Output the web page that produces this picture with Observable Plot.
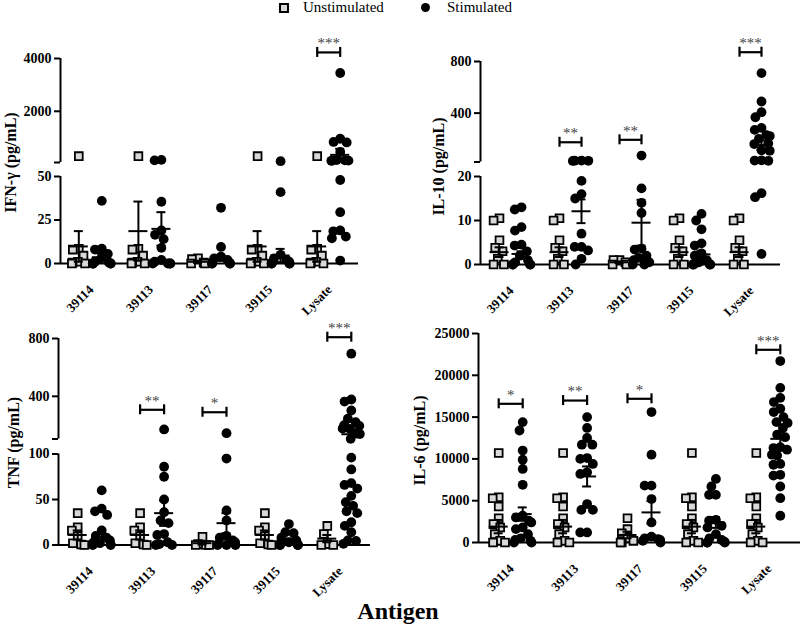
<!DOCTYPE html>
<html><head><meta charset="utf-8">
<script src="https://cdn.jsdelivr.net/npm/d3@7"></script>
<script src="https://cdn.jsdelivr.net/npm/@observablehq/plot@0.6"></script>
<style>
html,body{margin:0;padding:0;background:#fff;}
#wrap{position:relative;width:800px;height:625px;overflow:hidden;font-family:"Liberation Serif","Times New Roman",serif;}
.panel{position:absolute;}
.panel svg{overflow:visible;}
.panel g[aria-label^="y-axis"] line,.panel g[aria-label^="y-axis"] path{stroke-width:2px;}
.leg{position:absolute;font-size:15px;line-height:1;color:#000;}
.sq{position:absolute;width:6px;height:6px;border:2px solid #000;background:#d9d9d9;}
.ci{position:absolute;width:9px;height:9px;border-radius:50%;background:#000;}
#xt{position:absolute;left:0;width:800px;top:599px;text-align:center;font-size:24px;font-weight:bold;line-height:1;text-indent:-4px;}
</style></head><body><div id="wrap">
<div class="sq" style="left:279px;top:3px"></div><div class="leg" style="left:303px;top:0px">Unstimulated</div>
<div class="ci" style="left:421px;top:3px"></div><div class="leg" style="left:447px;top:0px">Stimulated</div>
<div id="xt">Antigen</div>
</div>
<script>
const categories = ["39114", "39113", "39117", "39115", "Lysate"];

// IFN-γ (pg/mL)
const ifnUnstim = [
  [300, 8.5, 8, 4.5, 1, 0.5, 0, 0],
  [300, 8.5, 8, 4.5, 1, 0.5, 0, 0],
  [3, 2.5, 0.5, 0, 0],
  [300, 8.5, 8, 4.5, 1, 0.5, 0, 0],
  [300, 8.5, 8, 4.5, 1, 0.5, 0, 0]];
const ifnStim = [
  [36, 8.5, 8, 5.5, 3, 1, 0.5, 0, 0, 0, 0, 0],
  [160, 140, 35.5, 19, 16.5, 14, 9, 2, 1, 0, 0, 0, 0],
  [32, 9.5, 4, 3, 2, 1, 0.5, 0, 0, 0, 0],
  [110, 41, 5, 3, 2, 1, 0.5, 0, 0, 0, 0],
  [3450, 960, 840, 820, 460, 150, 140, 135, 130, 125, 48, 29.5, 19, 18.5, 15.5, 14.5, 1.7]];
const ifnUnstimMean = [9.8, 18.6, 1, 9.8, 9.8];
const ifnUnstimSem = [8.8, 17, 0.6, 8.8, 8.8];
const ifnStimMean = [3.6, 19.9, 3, 4.6, 350];
const ifnStimSem = [2, 9.6, 1.5, 3.8, 230];
const ifnSig = ["", "", "", "", "***"];
const ifnSigLevel = [null, null, null, null, 4230];

// IL-10 (pg/mL)
const il10Unstim = [
  [10.5, 10, 5.5, 3.8, 3, 1.3, 0, 0],
  [10.5, 10, 5.5, 3.8, 3, 1.3, 0, 0],
  [1, 1, 0.5, 0, 0],
  [10.5, 10, 5.5, 3.8, 3, 1.3, 0, 0],
  [10.5, 10, 5.5, 3.8, 3, 1.3, 0, 0]];
const il10Stim = [
  [13, 12.5, 8.5, 7.7, 4.5, 4.3, 3, 2, 1, 0.5, 0, 0, 0, 0],
  [32, 31, 30, 29, 19, 16, 15, 7, 4, 4, 3.2, 1.3, 0],
  [71, 17.3, 14, 11.7, 3.6, 3.4, 2, 1.5, 1, 0.5, 0, 0],
  [11.5, 10, 8, 4.8, 4.3, 2.5, 2, 1, 0.5, 0, 0, 0, 0],
  [710, 490, 407, 368, 285, 270, 230, 222, 201, 165, 160, 112, 108, 34, 32, 30, 16.2, 15.3, 2.4]];
const il10UnstimMean = [2.8, 2.8, 0.5, 2.8, 2.8];
const il10UnstimSem = [1.1, 1.1, 0.2, 1.1, 1.1];
const il10StimMean = [2.4, 12.1, 9.5, 2.3, 152];
const il10StimSem = [0.6, 2.7, 5.2, 0.8, 36];
const il10Sig = ["", "**", "**", "", "***"];
const il10SigLevel = [null, 174, 193, null, 872];

// TNF (pg/mL)
const tnfUnstim = [
  [35, 19.5, 16, 9.5, 2, 0.5, 0],
  [35, 19.5, 16, 9.5, 2, 0.5, 0],
  [9, 1, 0, 0, 0],
  [35, 19.5, 16, 9.5, 2, 0.5, 0],
  [21, 12, 1, 0, 0]];
const tnfStim = [
  [60, 40, 37, 33, 16, 10, 8, 5, 3, 2, 1, 0.5, 0, 0],
  [171, 86, 75, 50, 36, 27, 24, 12, 11, 3, 1, 0, 0],
  [145, 95, 38, 27, 10, 8, 5, 3, 1, 0, 0, 0],
  [23, 14, 13, 8, 5, 3, 2, 1, 0, 0, 0, 0],
  [695, 378, 364, 302, 245, 221, 200, 196, 178, 174, 143, 139, 106, 96, 83, 68, 66, 62, 54, 47, 43, 37, 35, 25, 21, 14, 5, 4.5, 1.3]];
const tnfUnstimMean = [11, 11, 2, 11, 7];
const tnfUnstimSem = [5, 5, 1.5, 5, 4];
const tnfStimMean = [8.5, 35, 24, 5, 138];
const tnfStimSem = [4, 14, 11, 2, 26];
const tnfSig = ["", "**", "*", "", "***"];
const tnfSigLevel = [null, 307, 290, null, 809];

// IL-6 (pg/mL)
const il6Unstim = [
  [10700, 5400, 5300, 4300, 2900, 2200, 1800, 1000, 200, 0, 0],
  [10700, 5400, 5300, 4300, 2900, 2200, 1800, 1000, 200, 0, 0],
  [2900, 1600, 1100, 500, 200, 0, 0],
  [10700, 5400, 5300, 4300, 2900, 2200, 1800, 1000, 200, 0, 0],
  [10700, 5400, 5300, 4300, 2900, 2200, 1800, 1000, 200, 0, 0]];
const il6Stim = [
  [14400, 13400, 11000, 9900, 8800, 6900, 3200, 3000, 2600, 2400, 1800, 1600, 1000, 500, 300, 200, 0, 0],
  [15000, 13700, 12500, 11700, 11700, 10100, 10000, 9400, 8400, 8200, 4600, 3900, 3900, 1200, 1200],
  [15600, 10500, 6800, 6800, 5200, 2400, 700, 500, 400, 300, 200, 0],
  [7600, 6700, 5700, 5700, 2700, 2600, 2000, 1800, 1000, 500, 300, 100, 0, 0, 0],
  [21700, 18500, 17300, 16800, 16000, 15600, 15000, 14400, 14300, 13700, 12900, 12600, 11400, 11300, 11100, 10500, 10400, 9400, 9300, 8100, 8000, 6700, 5300, 3200]];
const il6UnstimMean = [1900, 1900, 900, 1900, 1900];
const il6UnstimSem = [800, 800, 400, 800, 800];
const il6StimMean = [3400, 7900, 3600, 2400, 12400];
const il6StimSem = [800, 1200, 1350, 650, 800];
const il6Sig = ["*", "**", "*", "", "***"];
const il6SigLevel = [16590, 16980, 17190, null, 23050];

const panels = [
  {left: 0, top: 0, width: 400, height: 300, axisX: 60, endX: 358, baseY: 263, pairPx: 11.5,
   yDomain: [0, 50, 60, 4000], yRange: [263, 176, 162, 58], ticks: [0, 25, 50, 60, 2000, 4000], breakTick: 60,
   title: "IFN-γ (pg/mL)", titleDx: -50, titleCy: 162,
   unstim: ifnUnstim, stim: ifnStim, uMean: ifnUnstimMean, uSem: ifnUnstimSem, sMean: ifnStimMean, sSem: ifnStimSem, sig: ifnSig, sigLevel: ifnSigLevel},
  {left: 400, top: 0, width: 400, height: 300, axisX: 80, endX: 380, baseY: 264, pairPx: 11,
   yDomain: [0, 20, 21, 800], yRange: [264, 176, 161.5, 61], ticks: [0, 10, 20, 21, 400, 800], breakTick: 21,
   title: "IL-10 (pg/mL)", titleDx: -42, titleCy: 166,
   unstim: il10Unstim, stim: il10Stim, uMean: il10UnstimMean, uSem: il10UnstimSem, sMean: il10StimMean, sSem: il10StimSem, sig: il10Sig, sigLevel: il10SigLevel},
  {left: 0, top: 290, width: 400, height: 320, axisX: 58, endX: 370, baseY: 544.5, pairPx: 12,
   yDomain: [0, 100, 105, 800], yRange: [544.5, 453.5, 438.5, 338], ticks: [0, 50, 100, 105, 400, 800], breakTick: 105,
   title: "TNF (pg/mL)", titleDx: -45, titleCy: 442,
   unstim: tnfUnstim, stim: tnfStim, uMean: tnfUnstimMean, uSem: tnfUnstimSem, sMean: tnfStimMean, sSem: tnfStimSem, sig: tnfSig, sigLevel: tnfSigLevel},
  {left: 400, top: 290, width: 400, height: 320, axisX: 78, endX: 400, baseY: 542, pairPx: 12,
   yDomain: [0, 25000], yRange: [542, 333], ticks: [0, 5000, 10000, 15000, 20000, 25000], breakTick: null,
   title: "IL-6 (pg/mL)", titleDx: -59, titleCy: 440,
   unstim: il6Unstim, stim: il6Stim, uMean: il6UnstimMean, uSem: il6UnstimSem, sMean: il6StimMean, sSem: il6StimSem, sig: il6Sig, sigLevel: il6SigLevel}
];

// simple beeswarm: horizontal pixel offsets so that points do not overlap
function swarm(ys, d) {
  const order = d3.range(ys.length).sort((a, b) => ys[a] - ys[b]);
  const xs = new Array(ys.length);
  const placed = [];
  for (const i of order) {
    const y = ys[i];
    const near = placed.filter(j => Math.abs(ys[j] - y) < d);
    const cands = [0];
    for (const j of near) {
      const dx = Math.sqrt(d * d - (ys[j] - y) ** 2);
      cands.push(xs[j] - dx, xs[j] + dx);
    }
    cands.sort((a, b) => Math.abs(a) - Math.abs(b) || a - b);
    let best = 0;
    for (const c of cands) {
      if (near.every(j => (xs[j] - c) ** 2 + (ys[j] - y) ** 2 >= d * d - 1e-6)) { best = c; break; }
    }
    xs[i] = best;
    placed.push(i);
  }
  return xs;
}

const wrap = document.getElementById("wrap");
const fmt = d3.format("d");

for (const p of panels) {
  const yr = p.yRange.map(v => v - p.top);
  const base = p.baseY - p.top;
  const band = (p.endX - p.axisX) / 5;
  const sOff = p.pairPx / band;
  const yPix = d3.scaleLinear(p.yDomain, yr);

  const pts = [];
  const series = [
    {name: "Unstimulated", groups: p.unstim, side: -1, dist: 9, W: 7},
    {name: "Stimulated", groups: p.stim, side: 1, dist: 9, W: 9}
  ];
  for (const s of series) {
    s.groups.forEach((vals, gi) => {
      const offs = swarm(vals.map(v => yPix(v)), s.dist).map(o => s.W * Math.tanh(o / s.W));
      vals.forEach((v, k) => pts.push({series: s.name, group: gi, value: v, x: gi + s.side * sOff + offs[k] / band}));
    });
  }

  const bars = [];
  for (let g = 0; g < 5; g++) {
    bars.push({x: g - sOff, mean: p.uMean[g], lo: Math.max(0, p.uMean[g] - p.uSem[g]), hi: p.uMean[g] + p.uSem[g]});
    bars.push({x: g + sOff, mean: p.sMean[g], lo: Math.max(0, p.sMean[g] - p.sSem[g]), hi: p.sMean[g] + p.sSem[g]});
  }

  const sigs = [];
  p.sig.forEach((t, g) => { if (t) sigs.push({g, text: t, level: p.sigLevel[g]}); });

  const segs = p.yDomain.length === 4
    ? [[0, p.yDomain[1]], [p.yDomain[2], p.yDomain[3]]]
    : [[0, p.yDomain[1]]];

  const labels = categories.map((c, i) => ({c, i}));

  const svg = Plot.plot({
    width: p.width,
    height: p.height,
    marginLeft: p.axisX,
    marginRight: p.width - p.endX,
    marginTop: 2 * (p.titleCy - p.top) - base,
    marginBottom: p.height - base,
    style: {fontFamily: "'Liberation Serif', 'Times New Roman', serif", fontSize: "14px", fontWeight: "bold", background: "transparent", color: "#000", overflow: "visible"},
    x: {type: "linear", domain: [-0.5, 4.5], axis: null},
    y: {type: "linear", domain: p.yDomain, range: yr, ticks: p.ticks, tickSize: 6, tickPadding: 3,
        tickFormat: v => (v === p.breakTick ? "" : fmt(v)), label: null},
    marks: [
      Plot.ruleX(segs, {x: () => -0.5, y1: d => d[0], y2: d => d[1], stroke: "#000", strokeWidth: 2}),
      Plot.ruleY([0], {y: d => d, x1: () => -0.5, x2: () => 4.5, stroke: "#000", strokeWidth: 2.2}),
      Plot.dot(pts.filter(d => d.series === "Unstimulated"), {x: "x", y: "value", symbol: "square", r: 4.4, fill: "#d9d9d9", stroke: "#000", strokeWidth: 1.8}),
      Plot.dot(pts.filter(d => d.series === "Stimulated"), {x: "x", y: "value", r: 4.9, fill: "#000"}),
      Plot.ruleX(bars, {x: "x", y1: "lo", y2: "hi", stroke: "#000", strokeWidth: 2}),
      Plot.ruleY(bars, {y: "mean", x1: "x", x2: "x", insetLeft: -9.5, insetRight: -9.5, stroke: "#000", strokeWidth: 2}),
      Plot.ruleY(bars, {y: "hi", x1: "x", x2: "x", insetLeft: -4.5, insetRight: -4.5, stroke: "#000", strokeWidth: 2}),
      Plot.ruleY(bars, {y: "lo", x1: "x", x2: "x", insetLeft: -4.5, insetRight: -4.5, stroke: "#000", strokeWidth: 2}),
      Plot.ruleY(sigs, {y: "level", x1: d => d.g - sOff, x2: d => d.g + sOff, stroke: "#000", strokeWidth: 2.2}),
      Plot.ruleX(sigs, {x: d => d.g - sOff, y1: "level", y2: "level", insetTop: -5, insetBottom: -5, stroke: "#000", strokeWidth: 2.2}),
      Plot.ruleX(sigs, {x: d => d.g + sOff, y1: "level", y2: "level", insetTop: -5, insetBottom: -5, stroke: "#000", strokeWidth: 2.2}),
      Plot.text(sigs, {x: "g", y: "level", text: "text", dy: -9, fontSize: 15, fontWeight: "normal", fill: "#444"}),
      Plot.text(labels, {x: "i", y: () => 0, text: "c", rotate: -45, textAnchor: "end", dx: 1, dy: 24, fontSize: 13, fontWeight: "bold", fill: "#000"}),
      Plot.text([p.title], {text: d => d, frameAnchor: "left", textAnchor: "middle", dx: p.titleDx, rotate: -90, fontSize: 16, fontWeight: "bold", fill: "#000"})
    ]
  });
  const div = document.createElement("div");
  div.className = "panel";
  div.style.left = p.left + "px";
  div.style.top = p.top + "px";
  div.appendChild(svg);
  wrap.appendChild(div);
}
</script>
</body></html>
